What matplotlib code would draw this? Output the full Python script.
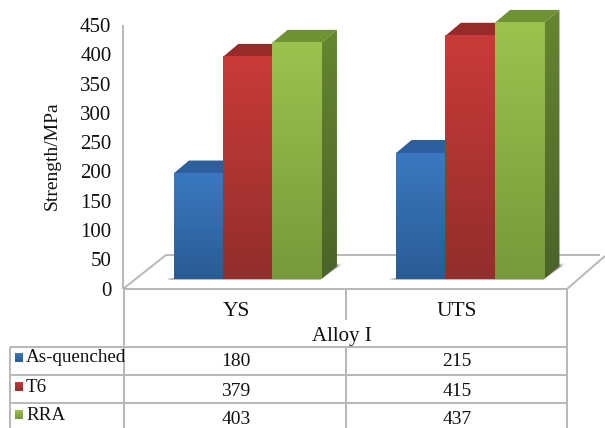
import numpy as np
import matplotlib
matplotlib.use("Agg")
import matplotlib.pyplot as plt
from matplotlib.colors import LinearSegmentedColormap as LSC
from matplotlib.patches import Polygon, Rectangle

categories = ["YS", "UTS"]
series_names = ["As-quenched", "T6", "RRA"]
as_quenched = [180, 215]
t6 = [379, 415]
rra = [403, 437]
series_values = [as_quenched, t6, rra]
y_ticks = list(range(0, 451, 50))
y_title = "Strength/MPa"
x_title = "Alloy I"

W, H = 605, 428
plt.rcParams["font.family"] = ["Liberation Serif", "DejaVu Serif"]
fig = plt.figure(figsize=(W / 100, H / 100), dpi=100, facecolor="white")

# Layout layer in pixel coordinates: wall, floor and data table rules
lay = fig.add_axes([0, 0, 1, 1], zorder=1)
lay.set_xlim(0, W)
lay.set_ylim(H, 0)
lay.axis("off")
GRID = "#b8b8b8"
segs = [
    ((123, 25), (123, 289)),
    ((123, 289), (567, 289)), ((123, 289), (166, 255)), ((166, 255), (600, 255)),
    ((567, 289), (605, 256)),
    ((123.5, 289), (123.5, 428)), ((345.5, 289), (345.5, 320)), ((345.5, 347), (345.5, 428)),
    ((567, 289), (567, 428)), ((10, 347), (567, 347)), ((10, 375), (567, 375)),
    ((10, 402.5), (567, 402.5)), ((10, 347), (10, 428)),
]
for a, b in segs:
    lay.plot([a[0], b[0]], [a[1], b[1]], color=GRID, lw=1.4, solid_capstyle="butt")

# Bars: x in category units, y in MPa, positioned so that 0 MPa sits on the floor
bars = fig.add_axes([0, 0, 1, 1], zorder=2)
px_per_mpa = 0.586
base_y, group_x0, group_dx = 279, 247.5, 222.5
bars_xlim = (-group_x0 / group_dx, (W - group_x0) / group_dx)
bars_ylim = (-(H - base_y) / px_per_mpa, base_y / px_per_mpa)
bars.axis("off")
bar_w = 49.3 / group_dx
dep_x, dep_y = 15.5 / group_dx, 13.0 / px_per_mpa

palette = [
    dict(hi="#3a79c0", lo="#2a5b94", top="#2c5f9b", s1="#2c5f9b", s2="#234c7c"),
    dict(hi="#c93b39", lo="#922e2c", top="#962b29", s1="#962b29", s2="#762422"),
    dict(hi="#9cc24f", lo="#769a3a", top="#6f9232", s1="#668630", s2="#4a6329"),
]
ramp = np.linspace(0, 1, 128).reshape(-1, 1)

# Alpha map of the soft floor shadow, fading away from the cluster's side face
gx, gy = np.meshgrid(np.linspace(0, 1.5, 60), np.linspace(1.2, 0, 40))
edge = np.minimum(gy, 1.0)
reach = gy * 1.25
with np.errstate(divide="ignore", invalid="ignore"):
    fade = np.nan_to_num(1 - (gx - edge) / np.maximum(reach - edge, 1e-6))
shadow = np.zeros(gx.shape + (4,))
shadow[..., :3] = 0.3
shadow[..., 3] = 0.8 * np.clip(fade, 0, 1) * np.clip((1.2 - gy) / 0.25, 0, 1)

for c in range(len(categories)):
    right = c + 1.5 * bar_w
    left = c - 1.5 * bar_w
    bars.imshow(shadow, aspect="auto", extent=(right, right + 1.5 * dep_x, 0, 1.2 * dep_y),
                zorder=1, interpolation="bilinear")
    for k in (1.0, 0.7, 0.4):
        bars.add_patch(Rectangle((left - 6 * k / group_dx, -1.5), right - left + 6 * k / group_dx, 2.5,
                                 fc="#777777", ec="none", alpha=0.2, zorder=1))

    for s, vals in enumerate(series_values):
        v = vals[c]
        x0 = c + (s - 1.5) * bar_w
        x1 = x0 + bar_w
        p = palette[s]
        z = 3 + s
        # side face with a vertical shade
        side = bars.imshow(ramp, cmap=LSC.from_list("s", [p["s1"], p["s2"]]), aspect="auto",
                           extent=(x1, x1 + dep_x, 0, v + dep_y), origin="upper", zorder=z,
                           interpolation="bilinear")
        side.set_clip_path(Polygon([(x1, 0), (x1 + dep_x, dep_y), (x1 + dep_x, v + dep_y), (x1, v)],
                                   transform=bars.transData))
        # top face
        bars.add_patch(Polygon([(x0, v), (x0 + dep_x, v + dep_y), (x1 + dep_x, v + dep_y), (x1, v)],
                               closed=True, fc=p["top"], ec="none", zorder=z))
        # front face with a vertical gradient
        bars.imshow(ramp, cmap=LSC.from_list("f", [p["hi"], p["lo"]]), aspect="auto",
                    extent=(x0, x1, 0, v), origin="upper", zorder=z + 0.1, interpolation="bilinear")
bars.set_xlim(*bars_xlim)
bars.set_ylim(*bars_ylim)

# Value axis labels, floor plane offset from the bars
yax = fig.add_axes([117 / W, 1 - 288.5 / H, 6 / W, 263.5 / H], zorder=3)
yax.set_ylim(0, 450)
yax.set_xlim(0, 1)
yax.patch.set_alpha(0)
for sp in yax.spines.values():
    sp.set_visible(False)
yax.set_xticks([])
yax.set_yticks(y_ticks)
yax.tick_params(axis="y", length=0, pad=4, labelsize=15, labelcolor="#111111")
lay.text(52, 156, y_title, rotation=90, ha="center", va="center", fontsize=14, color="#111111")

# Category names, axis title and data table
table_x = [236, 457]
for name, x in zip(categories, table_x):
    lay.text(x, 311, name, ha="center", va="center", fontsize=15.5, color="#111111")
lay.text(342, 337, x_title, ha="center", va="center", fontsize=15, color="#111111")

row_y = [362, 391, 420]
label_y = [358, 387, 415]
for s, vals in enumerate(series_values):
    p = palette[s]
    lay.imshow(ramp, cmap=LSC.from_list("m", [p["hi"], p["lo"]]), aspect="auto",
               extent=(15, 23, label_y[s] + 4, label_y[s] - 5), zorder=4)
    lay.text(26, label_y[s], series_names[s], ha="left", va="center", fontsize=13.7, color="#111111")
    for v, x in zip(vals, table_x):
        lay.text(x, row_y[s], str(v), ha="center", va="center", fontsize=14, color="#111111")
lay.set_xlim(0, W)
lay.set_ylim(H, 0)

fig.savefig("out.png", dpi=100, facecolor="white")
